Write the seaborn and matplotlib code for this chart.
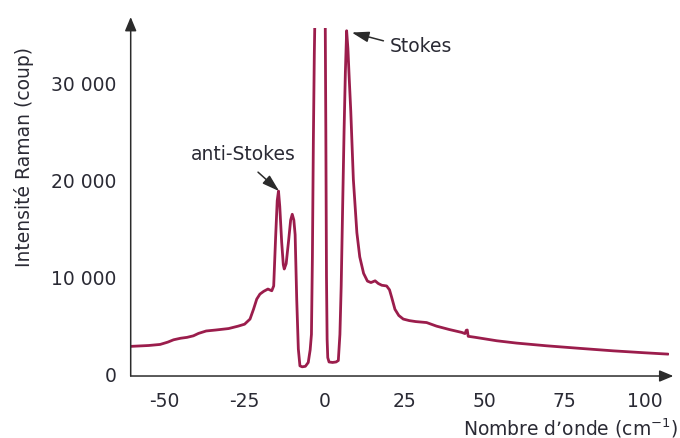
import matplotlib
matplotlib.use("Agg")
import matplotlib.pyplot as plt
import pandas as pd
import seaborn as sns

# Raman spectrum: wavenumber shift (cm-1) and measured intensity (counts)
wavenumber = [
    -60.6, -55.0, -51.4, -49.0, -47.2, -45.0, -43.0, -41.0, -39.4, -37.0,
    -34.0, -30.0, -27.0, -25.0, -23.3, -22.2, -21.2, -20.2, -19.0, -17.7,
    -16.5, -15.9, -15.3, -14.8, -14.4, -14.0, -13.4, -12.9, -12.6, -12.0,
    -11.2, -10.6, -10.1, -9.6, -9.2, -8.7, -8.2, -7.7, -7.0, -6.0,
    -5.1, -4.5, -4.1, -3.8, -3.5, -3.2, -3.0, -1.4, 0.2, 0.4,
    0.6, 0.8, 1.0, 1.4, 2.5, 3.6, 4.3, 4.8, 5.2, 5.7,
    6.1, 6.5, 6.9, 7.3, 7.7, 8.2, 9.0, 10.1, 11.0, 12.2,
    13.4, 14.5, 15.8, 16.8, 17.9, 19.4, 20.3, 21.0, 22.0, 23.2,
    24.6, 26.5, 28.5, 31.9, 35.0, 39.0, 42.9, 43.9, 44.3, 44.6,
    44.9, 47.0, 53.8, 60.0, 69.4, 80.0, 90.2, 100.0, 107.4,
]
intensity = [
    2760, 2850, 2960, 3200, 3440, 3600, 3690, 3850, 4100, 4350,
    4450, 4600, 4850, 5050, 5580, 6600, 7640, 8160, 8450, 8680,
    8500, 9000, 14000, 17800, 18800, 17200, 13500, 11200, 10750, 11300,
    13800, 15800, 16400, 15800, 14300, 7600, 2500, 750, 650, 700,
    1100, 2400, 4000, 12000, 24000, 33000, 37000, 60000, 37000, 25000,
    10000, 3500, 1600, 1150, 1100, 1150, 1300, 4000, 9000, 18000,
    25000, 31000, 35350, 33500, 30500, 27000, 20000, 14500, 12000, 10300,
    9500, 9350, 9530, 9250, 9070, 9000, 8600, 7800, 6590, 5950,
    5580, 5420, 5320, 5220, 4850, 4500, 4200, 4080, 4420, 4450,
    3800, 3700, 3340, 3100, 2820, 2550, 2300, 2100, 1960,
]

x_ticks = [-50, -25, 0, 25, 50, 75, 100]
x_tick_labels = ["-50", "-25", "0", "25", "50", "75", "100"]
x_minor_ticks = [-37.5, -12.5, 12.5, 37.5, 62.5, 87.5]
y_ticks = [0, 10000, 20000, 30000]
y_tick_labels = ["0", "10 000", "20 000", "30 000"]
y_minor_ticks = [5000, 15000, 25000]

LINE = "#9b1d4c"
AXIS = "#2b2b2b"
TEXT = "#2a2a34"
FS = 13.5

sns.set_style("white")
plt.rcParams["font.family"] = ["DejaVu Sans"]
plt.rcParams["mathtext.fontset"] = "dejavusans"

fig = plt.figure(figsize=(6.8, 4.39), dpi=100)
ax = fig.add_axes([0.1922, 0.1412, 0.7913, 0.792])

spectrum = pd.DataFrame({"wavenumber": wavenumber, "intensity": intensity})
sns.lineplot(data=spectrum, x="wavenumber", y="intensity", ax=ax,
             color=LINE, linewidth=2.0, estimator=None, sort=False)

ax.set_xlim(-60.6, 107.6)
ax.set_ylim(-300, 35600)

# axis lines drawn as arrows, no frame
for s in ax.spines.values():
    s.set_visible(False)
arrow_kw = dict(arrowstyle="-|>,head_length=0.6,head_width=0.25",
                color=AXIS, lw=1.1, mutation_scale=14, shrinkA=0, shrinkB=0)
ax.annotate("", xy=(1.0085, 0), xytext=(0, 0), xycoords="axes fraction",
            arrowprops=arrow_kw, annotation_clip=False)
ax.annotate("", xy=(0, 1.0325), xytext=(0, 0), xycoords="axes fraction",
            arrowprops=arrow_kw, annotation_clip=False)

ax.set_xticks(x_ticks)
ax.set_xticklabels(x_tick_labels)
ax.set_xticks(x_minor_ticks, minor=True)
ax.set_yticks(y_ticks)
ax.set_yticklabels(y_tick_labels)
ax.set_yticks(y_minor_ticks, minor=True)
ax.tick_params(which="major", direction="out", length=8, width=1.0,
               color=AXIS, labelcolor=TEXT, labelsize=FS)
ax.tick_params(axis="x", which="major", pad=3)
ax.tick_params(axis="y", which="major", pad=2)
ax.tick_params(which="minor", direction="out", length=4.5, width=1.0, color=AXIS)

ax.set_xlabel("Nombre d\u2019onde (cm$^{-1}$)", fontsize=FS, color=TEXT,
              ha="right", va="baseline")
ax.xaxis.set_label_coords(1.017, -0.167)
ax.set_ylabel("Intensité Raman (coup)", fontsize=FS, color=TEXT,
              ha="center", va="center")
ax.yaxis.set_label_coords(-0.198, 0.633)

note_kw = dict(arrowstyle="-|>,head_length=0.8,head_width=0.25",
               color=AXIS, lw=1.1, mutation_scale=13, shrinkA=0, shrinkB=0)
ax.annotate("", xy=(8.5, 35170), xytext=(18.4, 34310), arrowprops=note_kw)
ax.text(20.5, 33860, "Stokes", fontsize=FS, color=TEXT, ha="left", va="center")
ax.annotate("", xy=(-14.2, 18790), xytext=(-20.8, 20750), arrowprops=note_kw)
ax.text(-25.3, 22710, "anti-Stokes", fontsize=FS, color=TEXT,
        ha="center", va="center")

fig.savefig("out.png", dpi=100)
